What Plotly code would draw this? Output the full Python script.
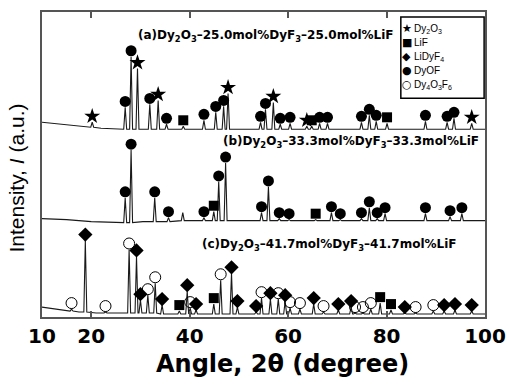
import numpy as np
import plotly.graph_objects as go

# ---------------- data (2θ in degrees, intensity in arbitrary units) ----------------
# Pattern (a) Dy2O3-25.0mol%DyF3-25.0mol%LiF
a_base_ang = [10, 14, 18, 22, 25, 36, 100]
a_base_int = [196, 194, 192, 190, 189, 189, 189]
a_peak_ang = [20.2, 26.9, 28.1, 29.4, 31.9, 33.6, 35.3, 38.7, 42.9, 45.3, 46.9, 47.8,
              54.4, 55.4, 57.0, 58.4, 60.4, 63.8, 64.8, 66.4, 68.0, 74.9, 76.5, 77.9,
              80.1, 87.9, 92.3, 93.7, 97.3]
a_peak_top = [196, 211, 262, 250, 214, 218, 194, 192, 198, 206, 212, 225,
              196, 209, 216, 194, 195, 192, 192, 195, 195, 196, 203, 197,
              195, 197, 196, 200, 195]
a_peak_foot = [191, 189, 189, 189, 189, 189, 189, 189, 189, 189, 189, 189,
               189, 189, 189, 189, 189, 189, 189, 189, 189, 189, 189, 189,
               189, 189, 189, 189, 189]
a_phase = ["Dy2O3", "DyOF", "DyOF", "Dy2O3", "DyOF", "Dy2O3", "DyOF", "LiF", "DyOF", "DyOF",
           "DyOF", "Dy2O3", "DyOF", "DyOF", "Dy2O3", "DyOF", "DyOF", "Dy2O3", "LiF", "DyOF",
           "DyOF", "DyOF", "DyOF", "DyOF", "LiF", "DyOF", "DyOF", "DyOF", "Dy2O3"]

# Pattern (b) Dy2O3-33.3mol%DyF3-33.3mol%LiF
b_base_ang = [10, 15, 20, 25, 30.5, 40, 100]
b_base_int = [99, 98, 96, 95, 96, 97, 97]
b_peak_ang = [26.9, 28.1, 32.9, 35.7, 38.6, 42.9, 44.9, 45.9, 47.3, 54.6, 56.0, 58.2,
              60.2, 65.6, 68.8, 70.6, 74.9, 76.5, 78.1, 79.7, 87.9, 92.9, 95.3]
b_peak_top = [120, 168, 120, 100, 105, 100, 106, 136, 155, 105, 131, 99,
              98, 98, 105, 98, 99, 110, 99, 104, 104, 101, 104]
b_peak_foot = [95, 95, 96, 96, 97, 97, 97, 97, 97, 97, 97, 97,
               97, 97, 97, 97, 97, 97, 97, 97, 97, 97, 97]
b_phase = ["DyOF", "DyOF", "DyOF", "DyOF", None, "DyOF", "LiF", "DyOF", "DyOF", "DyOF",
           "DyOF", "DyOF", "DyOF", "LiF", "DyOF", "DyOF", "DyOF", "DyOF", "DyOF", "DyOF",
           "DyOF", "DyOF", "DyOF"]

# Pattern (c) Dy2O3-41.7mol%DyF3-41.7mol%LiF
c_base_ang = [10, 13, 15, 17.5, 21, 25, 36, 100]
c_base_int = [10, 8, 7, 5, 4, 4, 3, 3]
c_peak_ang = [16.0, 18.8, 22.9, 27.7, 29.2, 30.0, 31.5, 33.0, 34.4, 37.9, 39.5, 40.1,
              41.3, 44.9, 46.3, 48.5, 49.7, 53.5, 54.6, 56.4, 58.0, 59.4, 60.4, 62.4,
              65.2, 67.2, 70.2, 72.8, 73.6, 75.2, 76.8, 78.7, 80.9, 83.7, 85.9, 89.5,
              91.7, 93.9, 97.3]
c_peak_top = [8, 77, 5, 68, 61, 17, 22, 34, 12, 6, 26, 9,
              7, 13, 37, 44, 10, 5, 19, 18, 18, 16, 9, 8,
              13, 5, 7, 10, 4, 4, 8, 14, 7, 4, 4, 6,
              6, 7, 6]
c_peak_foot = [6, 5, 4, 4, 4, 4, 4, 4, 3, 3, 3, 3,
               3, 3, 3, 3, 3, 3, 3, 3, 3, 3, 3, 3,
               3, 3, 3, 3, 3, 3, 3, 3, 3, 3, 3, 3,
               3, 3, 3]
c_phase = ["Dy4O3F6", "LiDyF4", "Dy4O3F6", "Dy4O3F6", "LiDyF4", "LiDyF4", "Dy4O3F6",
           "Dy4O3F6", "LiDyF4", "LiF", "LiDyF4", "Dy4O3F6", "LiDyF4", "LiF", "Dy4O3F6",
           "LiDyF4", "LiDyF4", "LiDyF4", "Dy4O3F6", "LiDyF4", "Dy4O3F6", "LiDyF4",
           "Dy4O3F6", "Dy4O3F6", "LiDyF4", "Dy4O3F6", "LiDyF4", "LiDyF4", "Dy4O3F6",
           "Dy4O3F6", "Dy4O3F6", "LiF", "LiF", "LiDyF4", "Dy4O3F6", "Dy4O3F6",
           "LiDyF4", "LiDyF4", "LiDyF4"]

sample_labels = ["(a)Dy<sub>2</sub>O<sub>3</sub>–25.0mol%DyF<sub>3</sub>–25.0mol%LiF",
                 "(b)Dy<sub>2</sub>O<sub>3</sub>–33.3mol%DyF<sub>3</sub>–33.3mol%LiF",
                 "(c)Dy<sub>2</sub>O<sub>3</sub>–41.7mol%DyF<sub>3</sub>–41.7mol%LiF"]

phase_keys = ["Dy2O3", "LiF", "LiDyF4", "DyOF", "Dy4O3F6"]
phase_names = ["Dy<sub>2</sub>O<sub>3</sub>", "LiF", "LiDyF<sub>4</sub>", "DyOF",
               "Dy<sub>4</sub>O<sub>3</sub>F<sub>6</sub>"]
phase_glyphs = ["★", "■", "◆", "●", "○"]

x_ticks = [10, 20, 40, 60, 80, 100]

# ---------------- styling ----------------
HALF_W = 0.3        # half width of a drawn diffraction spike (deg)
MARK_GAP = 6        # marker offset above a peak top (a.u.)
phase_symbols = {"Dy2O3": "star", "LiF": "square", "LiDyF4": "diamond",
                 "DyOF": "circle", "Dy4O3F6": "circle-open"}
phase_sizes = {"Dy2O3": 12, "LiF": 10, "LiDyF4": 11, "DyOF": 11, "Dy4O3F6": 11}
AX = "#555555"

patterns = [
    (a_base_ang, a_base_int, a_peak_ang, a_peak_top, a_peak_foot, a_phase),
    (b_base_ang, b_base_int, b_peak_ang, b_peak_top, b_peak_foot, b_phase),
    (c_base_ang, c_base_int, c_peak_ang, c_peak_top, c_peak_foot, c_phase),
]

fig = go.Figure()

for base_ang, base_int, pk_ang, pk_top, pk_foot, _ in patterns:
    xs = list(base_ang)
    ys = list(base_int)
    for a, t, f in zip(pk_ang, pk_top, pk_foot):
        xs += [a - HALF_W, a, a + HALF_W]
        ys += [f, t, f]
    order = np.argsort(np.array(xs), kind="stable")
    fig.add_trace(go.Scatter(x=np.array(xs)[order], y=np.array(ys)[order], mode="lines",
                             line=dict(color="#1a1a1a", width=1.1), showlegend=False,
                             hoverinfo="skip"))

for key, name in zip(phase_keys, phase_names):
    mx, my = [], []
    for _, _, pk_ang, pk_top, _, ph in patterns:
        for a, t, p in zip(pk_ang, pk_top, ph):
            if p == key:
                mx.append(a)
                my.append(t + MARK_GAP)
    fig.add_trace(go.Scatter(
        x=mx, y=my, mode="markers", name=name, showlegend=False,
        marker=dict(symbol=phase_symbols[key], size=phase_sizes[key], color="black",
                    line=dict(color="black", width=1 if key == "Dy4O3F6" else 0)),
    ))

# compact legend box (top right, inside plot)
LEG_X0, LEG_X1, LEG_Y0, LEG_Y1 = 0.81, 0.998, 0.717, 0.984
fig.add_shape(type="rect", xref="paper", yref="paper", x0=LEG_X0, x1=LEG_X1, y0=LEG_Y0, y1=LEG_Y1,
              line=dict(color="black", width=1.5), fillcolor="white", layer="above")
leg_rows = [0.945, 0.899, 0.853, 0.808, 0.762]
for glyph, name, ry in zip(phase_glyphs, phase_names, leg_rows):
    fig.add_annotation(x=0.823, y=ry, xref="paper", yref="paper", text=glyph, showarrow=False,
                       xanchor="center", yanchor="middle",
                       font=dict(family="DejaVu Sans", size=11, color="black"))
    fig.add_annotation(x=0.835, y=ry, xref="paper", yref="paper", text=name, showarrow=False,
                       xanchor="left", yanchor="middle",
                       font=dict(family="Liberation Sans, Arial", size=10, color="black"))

label_pos = [(0.212, 0.922), (0.405, 0.574), (0.356, 0.2345)]
for txt, (lx, ly) in zip(sample_labels, label_pos):
    fig.add_annotation(x=lx, y=ly, xref="paper", yref="paper", xanchor="left", yanchor="middle",
                       text=txt, showarrow=False,
                       font=dict(family="DejaVu Sans", size=12, color="black", weight="bold"))

fig.add_annotation(x=-0.058, y=0.455, xref="paper", yref="paper", text="Intensity, <i>I</i> (a.u.)",
                   textangle=-90, showarrow=False, xanchor="center", yanchor="middle",
                   font=dict(family="Liberation Sans, Arial", size=21, color="black"))

fig.add_annotation(x=0.542, y=-0.155, xref="paper", yref="paper", text="Angle, 2θ (degree)",
                   showarrow=False, xanchor="center", yanchor="middle",
                   font=dict(family="DejaVu Sans", size=24, color="black", weight="bold"))

fig.update_layout(
    width=516, height=378,
    margin=dict(l=42, r=22, t=10, b=61),
    plot_bgcolor="white", paper_bgcolor="white",
    showlegend=False,
)
fig.update_xaxes(range=[10, 100], tickvals=x_ticks, ticktext=[str(v) for v in x_ticks],
                 ticks="inside", ticklen=6, tickwidth=1.5, tickcolor=AX,
                 showline=True, linecolor=AX, linewidth=2, mirror="ticks",
                 showgrid=False, zeroline=False,
                 tickfont=dict(family="DejaVu Sans", size=20, color="black", weight="bold"))
fig.update_yaxes(range=[0, 307], showticklabels=False, ticks="",
                 showline=True, linecolor=AX, linewidth=2, mirror=True,
                 showgrid=False, zeroline=False)

fig.write_html("out.html")
